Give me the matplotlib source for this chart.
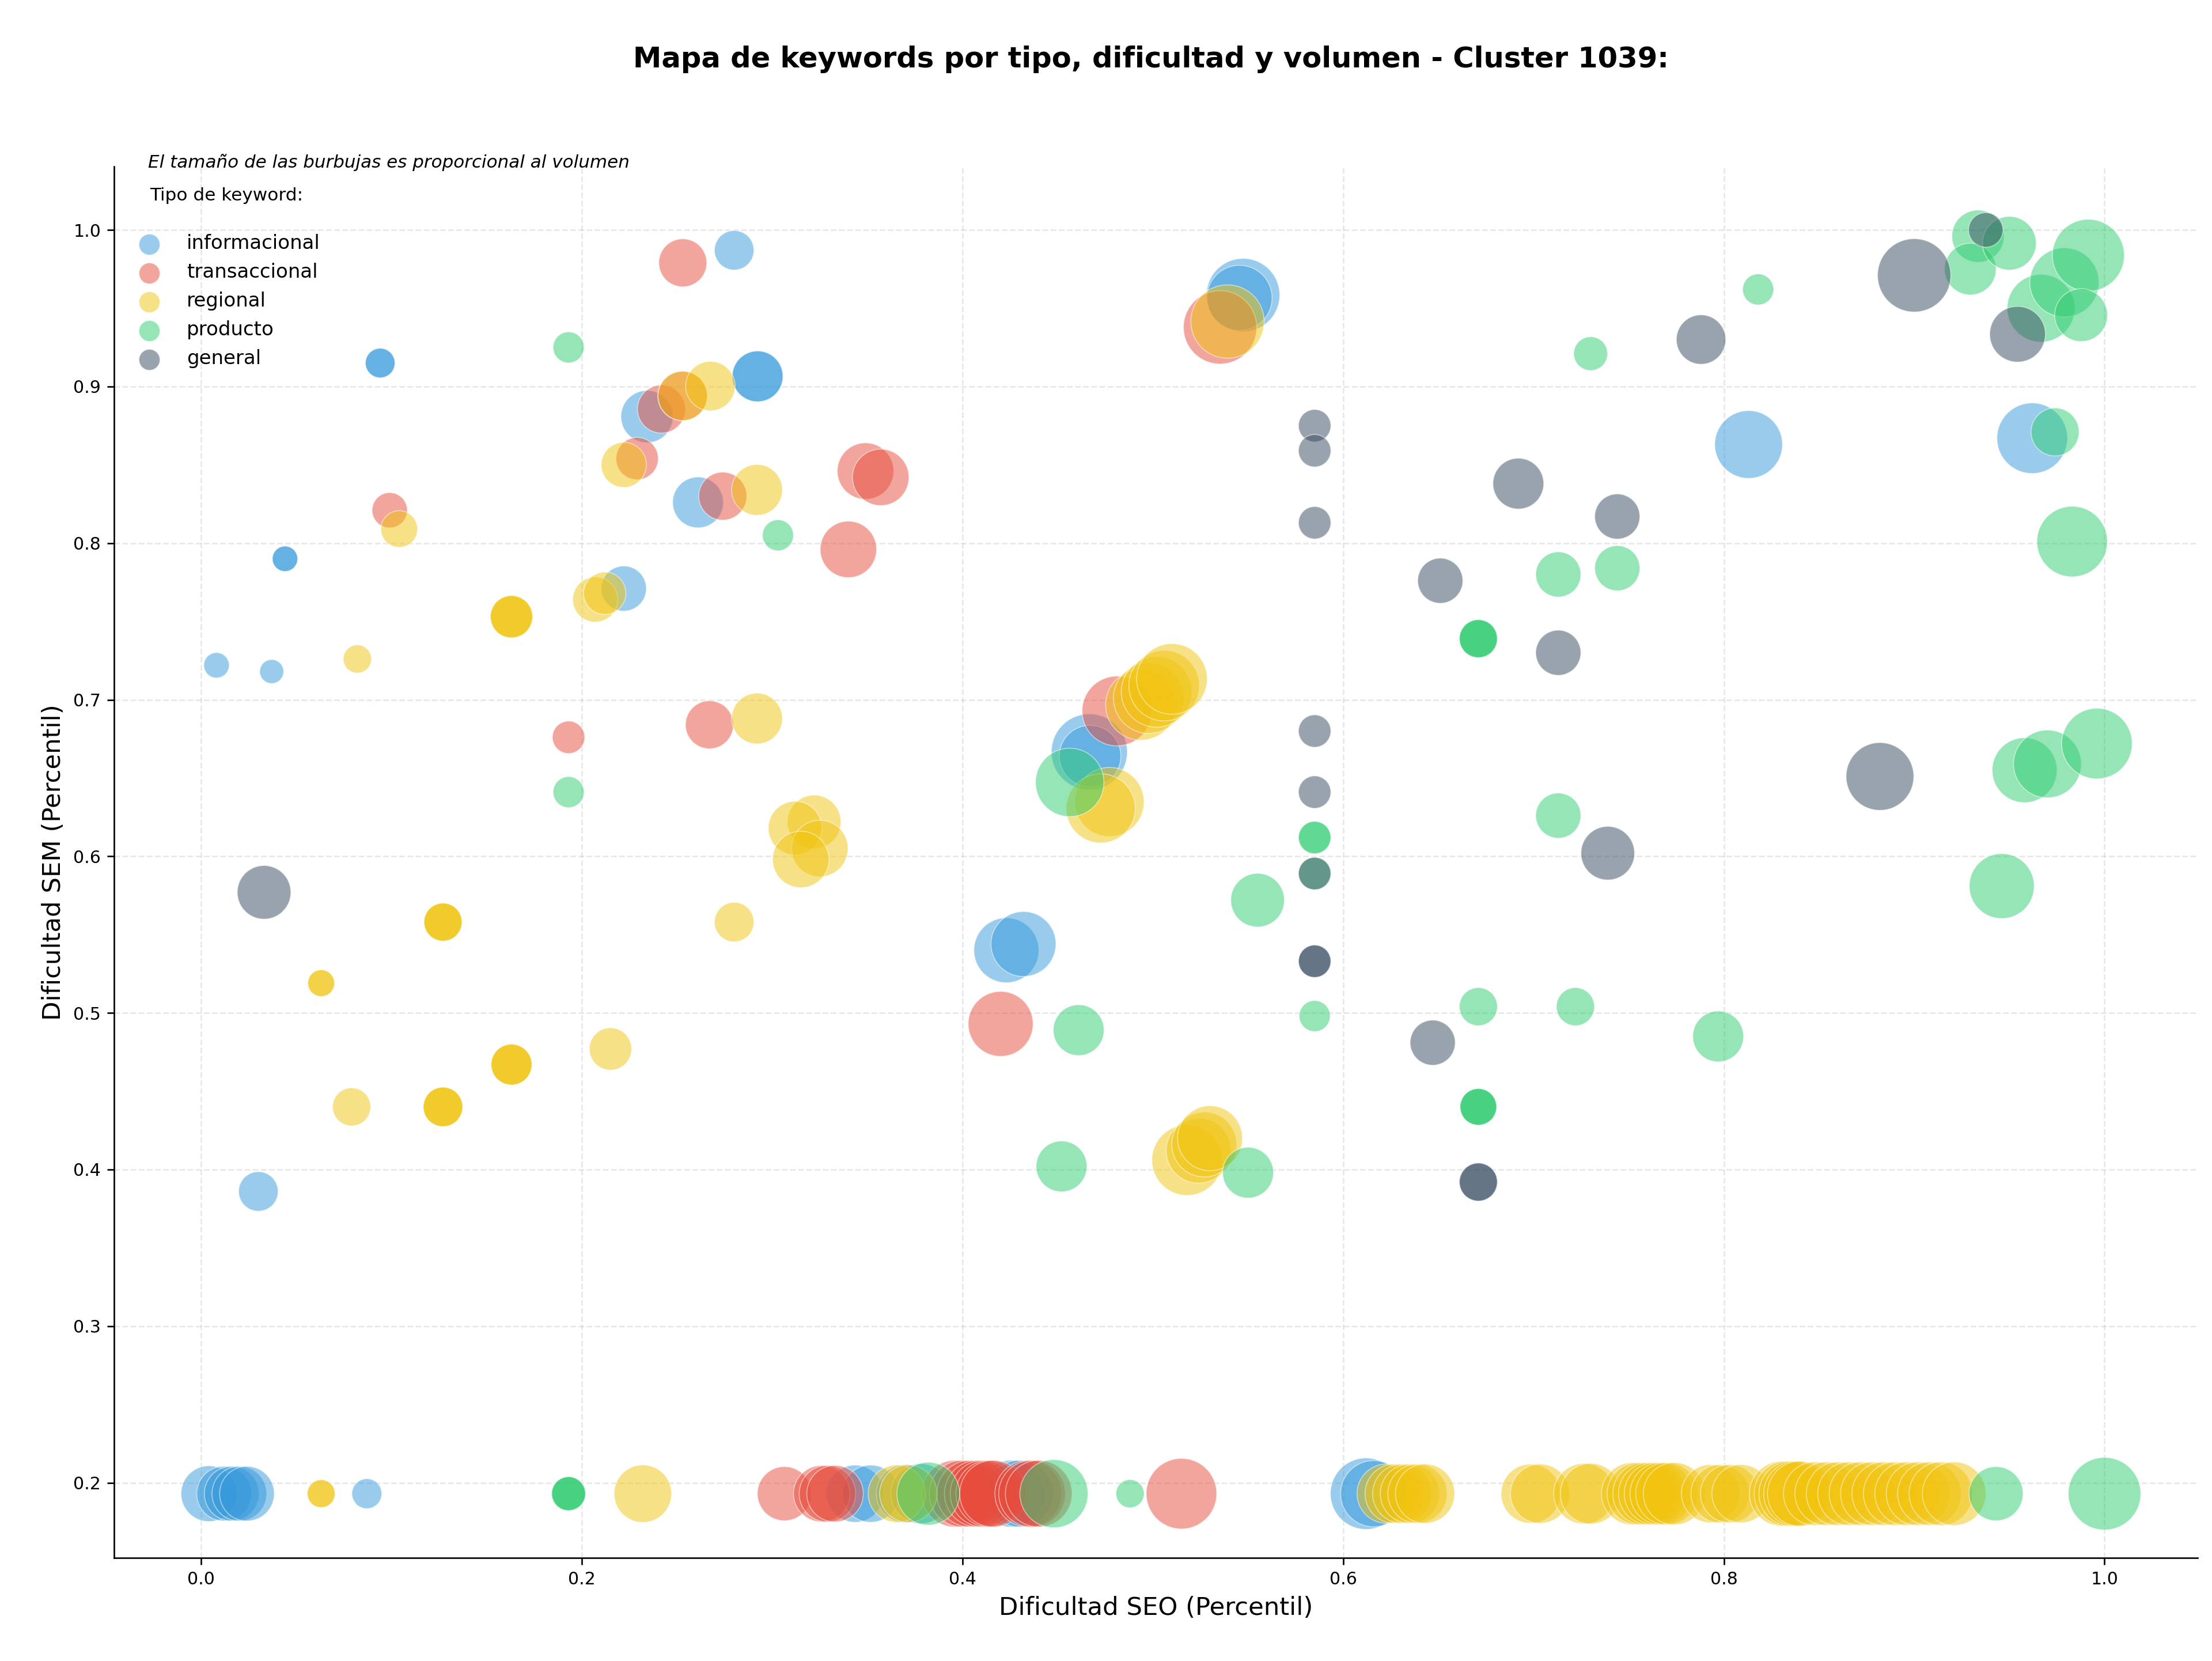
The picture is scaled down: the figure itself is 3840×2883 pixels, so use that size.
import matplotlib
matplotlib.use('Agg')
import matplotlib.pyplot as plt

# keywords por tipo: dificultad SEO, dificultad SEM, volumen
info_seo = [0.008, 0.037, 0.044, 0.044, 0.094, 0.094, 0.030, 0.222, 0.280, 0.261, 0.2342, 0.2923, 0.2923, 0.813, 0.962,
            0.5474, 0.5455, 0.4666, 0.467, 0.423, 0.432,
            0.004, 0.012, 0.016, 0.020, 0.024, 0.087, 0.3435, 0.3517, 0.370, 0.378, 0.4256, 0.430, 0.612, 0.616]
info_sem = [0.722, 0.718, 0.790, 0.790, 0.915, 0.915, 0.386, 0.771, 0.987, 0.826, 0.8808, 0.9065, 0.9065, 0.863, 0.867,
            0.9584, 0.9566, 0.6667, 0.664, 0.540, 0.544,
            0.193, 0.193, 0.193, 0.193, 0.193, 0.193, 0.193, 0.193, 0.193, 0.193, 0.193, 0.193, 0.193, 0.193]
info_vol = [324, 289, 324, 324, 441, 441, 784, 1024, 784, 1296, 1369, 1296, 1296, 2304, 2500,
            2700, 2130, 2900, 1900, 2116, 2116,
            1560, 1500, 1500, 1500, 1500, 450, 1640, 1640, 1700, 1800, 2240, 2240, 2560, 2200]

trans_seo = [0.253, 0.099, 0.229, 0.274, 0.349, 0.357, 0.340, 0.193, 0.267, 0.2418, 0.2529, 0.4811, 0.420, 0.5353,
             0.3064, 0.326, 0.329, 0.333, 0.396, 0.400, 0.404, 0.408, 0.411, 0.414, 0.416, 0.4345, 0.4365, 0.440, 0.515]
trans_sem = [0.979, 0.821, 0.854, 0.830, 0.846, 0.842, 0.796, 0.676, 0.684, 0.8856, 0.894, 0.6928, 0.493, 0.9378,
             0.193, 0.193, 0.193, 0.193, 0.193, 0.193, 0.193, 0.193, 0.193, 0.193, 0.193, 0.193, 0.193, 0.193, 0.193]
trans_vol = [1156, 625, 900, 1156, 1600, 1600, 1600, 529, 1156, 1156, 1225, 2440, 2116, 2700,
             1470, 1600, 1600, 1600, 2230, 2230, 2230, 2230, 2230, 2230, 2230, 2230, 2230, 2230, 2500]

reg_seo = [0.104, 0.082, 0.163, 0.163, 0.163, 0.207, 0.212, 0.222, 0.2529, 0.2675, 0.292, 0.292, 0.322, 0.312,
           0.325, 0.315, 0.280, 0.127, 0.127, 0.127, 0.063, 0.063, 0.215, 0.163, 0.163, 0.163, 0.127, 0.127, 0.127,
           0.079,
           0.4937, 0.4978, 0.5019, 0.5059, 0.5100, 0.4772, 0.4726, 0.518, 0.524, 0.527, 0.530, 0.5392,
           0.063, 0.063, 0.232, 0.3655, 0.3715,
           0.6228, 0.627, 0.631, 0.635, 0.639, 0.643, 0.6985, 0.7034, 0.7265, 0.730,
           0.752, 0.755, 0.758, 0.761, 0.764, 0.767, 0.770, 0.774, 0.793, 0.798, 0.803, 0.809,
           0.8305, 0.833, 0.8355, 0.838, 0.840,
           0.848, 0.854, 0.860, 0.866, 0.872, 0.878, 0.884, 0.890, 0.896, 0.902, 0.908, 0.914, 0.921]
reg_sem = [0.809, 0.726, 0.753, 0.753, 0.753, 0.764, 0.768, 0.850, 0.894, 0.9003, 0.834, 0.688, 0.622, 0.618,
           0.605, 0.598, 0.558, 0.558, 0.558, 0.558, 0.519, 0.519, 0.477, 0.467, 0.467, 0.467, 0.440, 0.440, 0.440,
           0.440,
           0.6967, 0.701, 0.705, 0.709, 0.7133, 0.6347, 0.6306, 0.406, 0.412, 0.416, 0.420, 0.9415,
           0.193, 0.193, 0.193, 0.193, 0.193,
           0.193, 0.193, 0.193, 0.193, 0.193, 0.193, 0.193, 0.193, 0.193, 0.193,
           0.193, 0.193, 0.193, 0.193, 0.193, 0.193, 0.193, 0.193, 0.193, 0.193, 0.193, 0.193,
           0.193, 0.193, 0.193, 0.193, 0.193,
           0.193, 0.193, 0.193, 0.193, 0.193, 0.193, 0.193, 0.193, 0.193, 0.193, 0.193, 0.193, 0.193]
reg_vol = [676, 400, 900, 900, 900, 1024, 900, 1024, 1225, 1225, 1296, 1296, 1444, 1444,
           1600, 1600, 784, 729, 729, 729, 361, 361, 900, 841, 841, 841, 784, 784, 784,
           729,
           2500, 2500, 2500, 2500, 2500, 2400, 2400, 2500, 2116, 2116, 2116, 2700,
           390, 390, 1660, 1660, 1660,
           1760, 1760, 1760, 1760, 1760, 1760, 1760, 1760, 1840, 1840,
           1940, 1940, 1940, 1940, 1940, 1940, 1940, 1940, 1700, 1700, 1700, 1700,
           2120, 2120, 2120, 2120, 2120,
           2025, 2025, 2025, 2025, 2025, 2025, 2025, 2025, 2025, 2025, 2025, 2025, 2025]

prod_seo = [0.193, 0.730, 0.818, 0.9335, 0.9295, 0.950, 0.9666, 0.9789, 0.9915, 0.9877, 0.974, 0.983, 0.303, 0.713,
            0.744, 0.671, 0.671, 0.671, 0.713, 0.585, 0.585, 0.585, 0.555, 0.946, 0.958, 0.970, 0.996, 0.4563, 0.193,
            0.585, 0.671, 0.722, 0.797, 0.461, 0.671, 0.671, 0.671, 0.452, 0.550,
            0.193, 0.193, 0.193, 0.488, 0.943, 1.000, 0.382, 0.448]
prod_sem = [0.925, 0.921, 0.962, 0.996, 0.975, 0.9915, 0.950, 0.9665, 0.9838, 0.9456, 0.871, 0.801, 0.805, 0.780,
            0.784, 0.739, 0.739, 0.739, 0.626, 0.612, 0.612, 0.589, 0.572, 0.581, 0.655, 0.659, 0.672, 0.6472, 0.641,
            0.498, 0.504, 0.504, 0.485, 0.489, 0.440, 0.440, 0.440, 0.402, 0.398,
            0.193, 0.193, 0.193, 0.193, 0.193, 0.193, 0.193, 0.193]
prod_vol = [484, 576, 484, 1369, 1340, 1444, 2300, 2400, 2600, 1400, 1156, 2500, 484, 1024,
            1024, 729, 729, 729, 1024, 529, 529, 529, 1444, 2116, 2116, 2304, 2500, 2350, 484,
            484, 729, 729, 1296, 1296, 676, 676, 676, 1296, 1296,
            580, 580, 580, 400, 1470, 2640, 1980, 2330]

gen_seo = [0.9376, 0.900, 0.9543, 0.788, 0.585, 0.585, 0.692, 0.744, 0.585, 0.651, 0.713, 0.585, 0.585, 0.882, 0.739,
           0.585, 0.585, 0.585, 0.647, 0.671, 0.671, 0.033]
gen_sem = [1.000, 0.971, 0.9334, 0.930, 0.875, 0.859, 0.838, 0.817, 0.813, 0.776, 0.730, 0.680, 0.641, 0.651, 0.602,
           0.589, 0.533, 0.533, 0.481, 0.392, 0.392, 0.577]
gen_vol = [600, 2700, 1560, 1225, 529, 529, 1296, 1024, 529, 1024, 1024, 529, 529, 2304, 1444,
           529, 529, 529, 1024, 729, 729, 1444]

tipos = ['informacional', 'transaccional', 'regional', 'producto', 'general']
colores = ['#3498db', '#e74c3c', '#f1c40f', '#2ecc71', '#34495e']
series = [(info_seo, info_sem, info_vol), (trans_seo, trans_sem, trans_vol), (reg_seo, reg_sem, reg_vol),
          (prod_seo, prod_sem, prod_vol), (gen_seo, gen_sem, gen_vol)]

fig = plt.figure(figsize=(16, 12.0125), dpi=240)
ax = fig.add_axes([198.4 / 3840, 1 - 2704 / 2883, (3815 - 198.4) / 3840, (2704 - 289) / 2883])

for tipo, color, (seo, sem, vol) in zip(tipos, colores, series):
    ax.scatter(seo, sem, s=[v * 0.54 for v in vol], c=color, alpha=0.5, edgecolors='white', linewidths=0.5,
               label=tipo)

ax.set_xlim(-0.0457, 1.0489)
ax.set_ylim(0.152, 1.0405)
ax.set_xticks([0.0, 0.2, 0.4, 0.6, 0.8, 1.0])
ax.set_yticks([0.2, 0.3, 0.4, 0.5, 0.6, 0.7, 0.8, 0.9, 1.0])
ax.grid(True, linestyle='--', alpha=0.3)
ax.set_axisbelow(True)
ax.spines['top'].set_visible(False)
ax.spines['right'].set_visible(False)
ax.tick_params(labelsize=9)

ax.set_xlabel('Dificultad SEO (Percentil)', fontsize=13)
ax.set_ylabel('Dificultad SEM (Percentil)', fontsize=13)
ax.set_title('Mapa de keywords por tipo, dificultad y volumen - Cluster 1039:', fontsize=14.9,
             fontweight='bold', pad=51.5, x=0.4976)

ax.text(0.0163, 1.003, 'El tamaño de las burbujas es proporcional al volumen', transform=ax.transAxes,
        fontsize=9.3, fontstyle='italic', va='center')
ax.text(0.017, 0.979, 'Tipo de keyword:', transform=ax.transAxes, fontsize=9.35, va='center')

leg = ax.legend(loc='upper left', bbox_to_anchor=(0.0037, 0.957), frameon=False, fontsize=10.2,
                labelspacing=0.5, handletextpad=0.9, borderaxespad=0)
for h in leg.legend_handles:
    h.set_sizes([120])

fig.savefig('out.png', dpi=240)
